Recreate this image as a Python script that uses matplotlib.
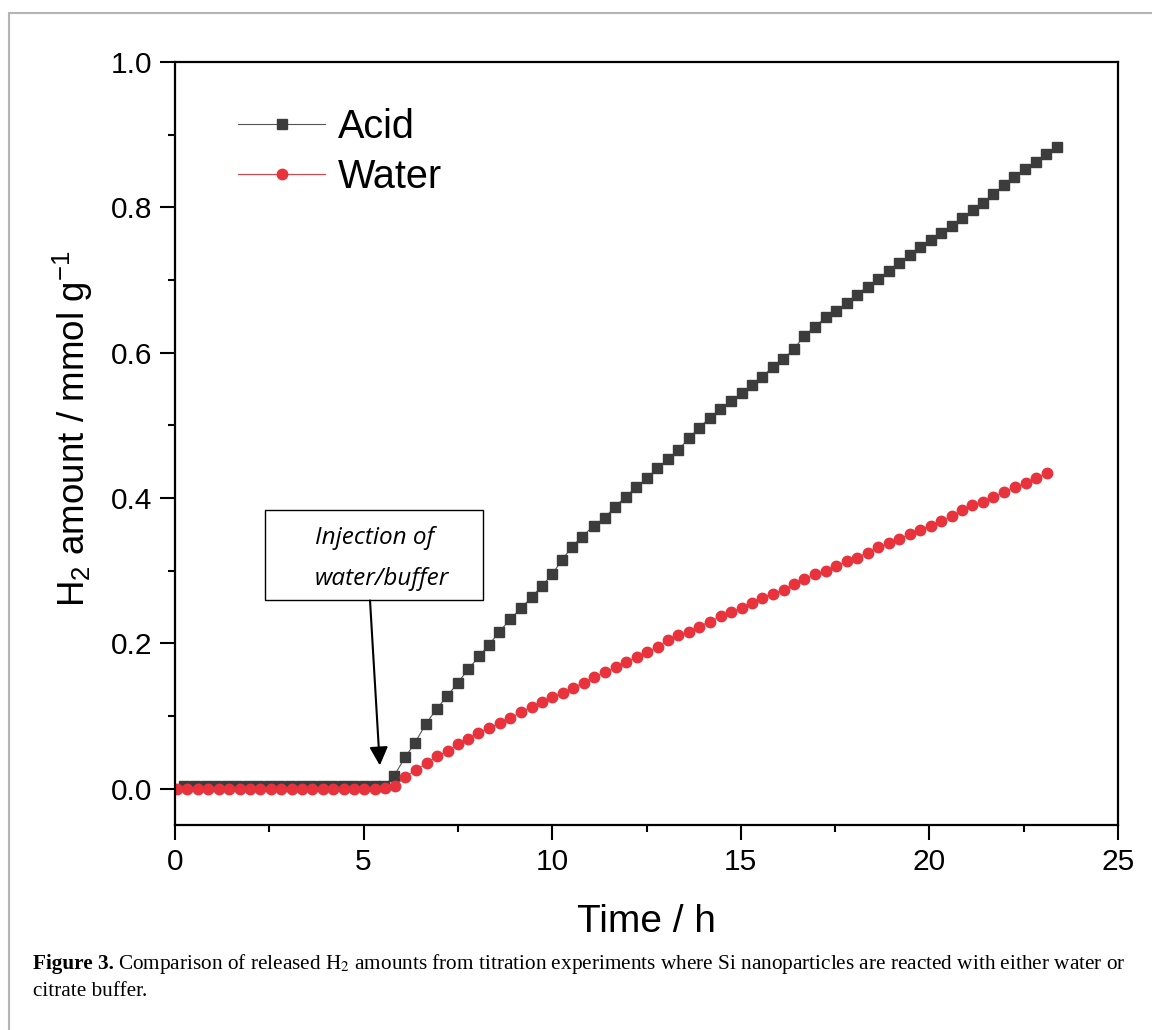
import numpy as np
import matplotlib.pyplot as plt
from matplotlib.patches import Rectangle

plt.rcParams['font.family'] = ['Liberation Sans', 'DejaVu Sans']
plt.rcParams['mathtext.fontset'] = 'custom'
plt.rcParams['mathtext.rm'] = 'Liberation Sans'
plt.rcParams['mathtext.it'] = 'Liberation Sans:italic'

# Datos (tiempo en h, H2 en mmol/g)
t_acid = [0.25, 0.53, 0.81, 1.09, 1.37, 1.65, 1.93, 2.21, 2.49, 2.77,
          3.05, 3.33, 3.61, 3.89, 4.17, 4.45, 4.73, 5.01, 5.29, 5.55,
          5.81, 6.10, 6.36, 6.65, 6.94, 7.21, 7.50, 7.77, 8.06, 8.32,
          8.59, 8.88, 9.17, 9.46, 9.73, 10.00, 10.26, 10.53, 10.79, 11.11,
          11.40, 11.66, 11.96, 12.22, 12.51, 12.78, 13.07, 13.33, 13.63, 13.89,
          14.18, 14.45, 14.74, 15.03, 15.30, 15.56, 15.85, 16.12, 16.41, 16.68,
          16.97, 17.26, 17.52, 17.81, 18.08, 18.37, 18.64, 18.93, 19.19, 19.49,
          19.75, 20.04, 20.31, 20.60, 20.86, 21.16, 21.42, 21.69, 21.98, 22.24,
          22.53, 22.83, 23.09, 23.38]
h2_acid = [0.004, 0.004, 0.004, 0.004, 0.004, 0.004, 0.004, 0.004, 0.003, 0.003,
           0.003, 0.003, 0.003, 0.003, 0.003, 0.003, 0.003, 0.003, 0.003, 0.003,
           0.018, 0.043, 0.063, 0.089, 0.110, 0.127, 0.146, 0.164, 0.182, 0.198,
           0.215, 0.233, 0.248, 0.264, 0.279, 0.295, 0.315, 0.333, 0.347, 0.362,
           0.373, 0.388, 0.402, 0.415, 0.427, 0.441, 0.453, 0.466, 0.482, 0.497,
           0.510, 0.522, 0.533, 0.544, 0.556, 0.567, 0.580, 0.591, 0.605, 0.623,
           0.636, 0.649, 0.658, 0.668, 0.680, 0.691, 0.701, 0.712, 0.723, 0.734,
           0.745, 0.755, 0.765, 0.775, 0.785, 0.796, 0.806, 0.818, 0.831, 0.842,
           0.853, 0.862, 0.873, 0.883]

t_water = [0.05, 0.33, 0.60, 0.88, 1.16, 1.43, 1.71, 1.98, 2.26, 2.54,
           2.81, 3.09, 3.36, 3.64, 3.92, 4.19, 4.47, 4.74, 5.02, 5.30,
           5.57, 5.83, 6.10, 6.39, 6.68, 6.95, 7.24, 7.50, 7.77, 8.03,
           8.32, 8.62, 8.88, 9.17, 9.46, 9.73, 10.00, 10.28, 10.55, 10.84,
           11.11, 11.40, 11.69, 11.96, 12.25, 12.51, 12.81, 13.07, 13.33, 13.63,
           13.89, 14.18, 14.47, 14.74, 15.03, 15.30, 15.56, 15.85, 16.15, 16.41,
           16.68, 16.97, 17.26, 17.52, 17.82, 18.08, 18.37, 18.64, 18.93, 19.19,
           19.49, 19.75, 20.04, 20.31, 20.60, 20.86, 21.13, 21.42, 21.69, 21.98,
           22.27, 22.56, 22.83, 23.12]
h2_water = [0.000, 0.000, 0.000, 0.000, 0.000, 0.000, 0.000, 0.000, 0.000, 0.000,
            0.000, 0.000, 0.000, 0.000, 0.000, 0.000, 0.000, 0.000, 0.000, 0.000,
            0.001, 0.004, 0.016, 0.026, 0.035, 0.045, 0.052, 0.061, 0.069, 0.076,
            0.084, 0.090, 0.097, 0.105, 0.113, 0.119, 0.126, 0.132, 0.139, 0.146,
            0.154, 0.160, 0.167, 0.174, 0.181, 0.188, 0.195, 0.205, 0.211, 0.216,
            0.223, 0.230, 0.237, 0.243, 0.249, 0.255, 0.263, 0.268, 0.274, 0.281,
            0.288, 0.295, 0.300, 0.306, 0.313, 0.318, 0.325, 0.332, 0.338, 0.344,
            0.350, 0.356, 0.362, 0.368, 0.375, 0.383, 0.390, 0.395, 0.401, 0.408,
            0.415, 0.420, 0.427, 0.434]

fig = plt.figure(figsize=(11.52, 10.30), dpi=100)

# marco gris de la figura
fig.add_artist(Rectangle((9 / 1152, -0.05), 1.2, 1 - 13 / 1030 + 0.05,
                         transform=fig.transFigure, fill=False,
                         edgecolor='#b4b4b4', linewidth=1.5))

ax = fig.add_axes([175 / 1152, 1 - 825 / 1030, (1118 - 175) / 1152, (825 - 62) / 1030])

ax.plot(t_acid, h2_acid, color='#555555', linewidth=0.8, marker='s',
        markersize=6.5, markerfacecolor='#3c3c3c', markeredgecolor='#3c3c3c', label='Acid')
ax.plot(t_water, h2_water, color='#e0404a', linewidth=0.8, marker='o',
        markersize=7.5, markerfacecolor='#e8323c', markeredgecolor='#e8323c', label='Water')

ax.set_xlim(0, 25)
ax.set_ylim(-0.05, 1.0)
ax.set_xticks(np.arange(0, 26, 5))
ax.set_xticks(np.arange(0, 25.1, 2.5), minor=True)
ax.set_yticks(np.arange(0, 1.01, 0.2))
ax.set_yticks(np.arange(0, 1.01, 0.1), minor=True)
ax.set_yticklabels(['0.0', '0.2', '0.4', '0.6', '0.8', '1.0'])
ax.tick_params(which='both', direction='out', top=False, right=False,
               width=1.5, labelsize=21.5, pad=6)
ax.tick_params(which='major', length=10.5)
ax.tick_params(which='minor', length=5)
for s in ax.spines.values():
    s.set_linewidth(1.6)

ax.set_xlabel('Time / h', fontsize=28, labelpad=20)
ax.set_ylabel(r'H$_2$ amount / mmol g$^{-1}$', fontsize=26.5)
ax.yaxis.set_label_coords(-0.085, 0.52)

ax.legend(loc='upper left', bbox_to_anchor=(238 / 1152, 1 - 108 / 1030),
          bbox_transform=fig.transFigure, frameon=False, fontsize=28.5,
          numpoints=1, handlelength=2.2, handletextpad=0.33,
          labelspacing=0.3, borderpad=0, borderaxespad=0)

# recuadro de la inyeccion
ax.add_patch(Rectangle((2.39, 0.259), 5.78, 0.125, fill=False,
                       edgecolor='black', linewidth=1.0, zorder=5))
ax.text(3.7, 0.345, 'Injection of', fontsize=17.5, style='italic',
        family=['Open Sans', 'DejaVu Sans'], va='center', ha='left')
ax.text(3.7, 0.288, 'water/buffer', fontsize=17.5, style='italic',
        family=['Open Sans', 'DejaVu Sans'], va='center', ha='left')
ax.annotate('', xy=(5.43, 0.032), xytext=(5.17, 0.259),
            arrowprops=dict(arrowstyle='-|>', color='black', lw=1.5,
                            mutation_scale=28, shrinkA=0, shrinkB=0))

# pie de figura
serif = ['Liberation Serif', 'DejaVu Serif']
fs_cap = 15.3
y1 = 1 - 969 / 1030
y2 = 1 - 996 / 1030
bold = fig.text(33 / 1152, y1, 'Figure 3.', family=serif, fontsize=fs_cap,
                weight='bold', va='baseline')
fig.canvas.draw()
w = bold.get_window_extent(fig.canvas.get_renderer()).width
fig.text((33 + w + 4) / 1152, y1,
         r'Comparison of released H$_2$ amounts from titration experiments where Si '
         'nanoparticles are reacted with either water or',
         family=serif, fontsize=fs_cap, va='baseline', math_fontfamily='stix')
fig.text(33 / 1152, y2, 'citrate buffer.', family=serif, fontsize=fs_cap, va='baseline')

fig.savefig('out.png', dpi=100)
